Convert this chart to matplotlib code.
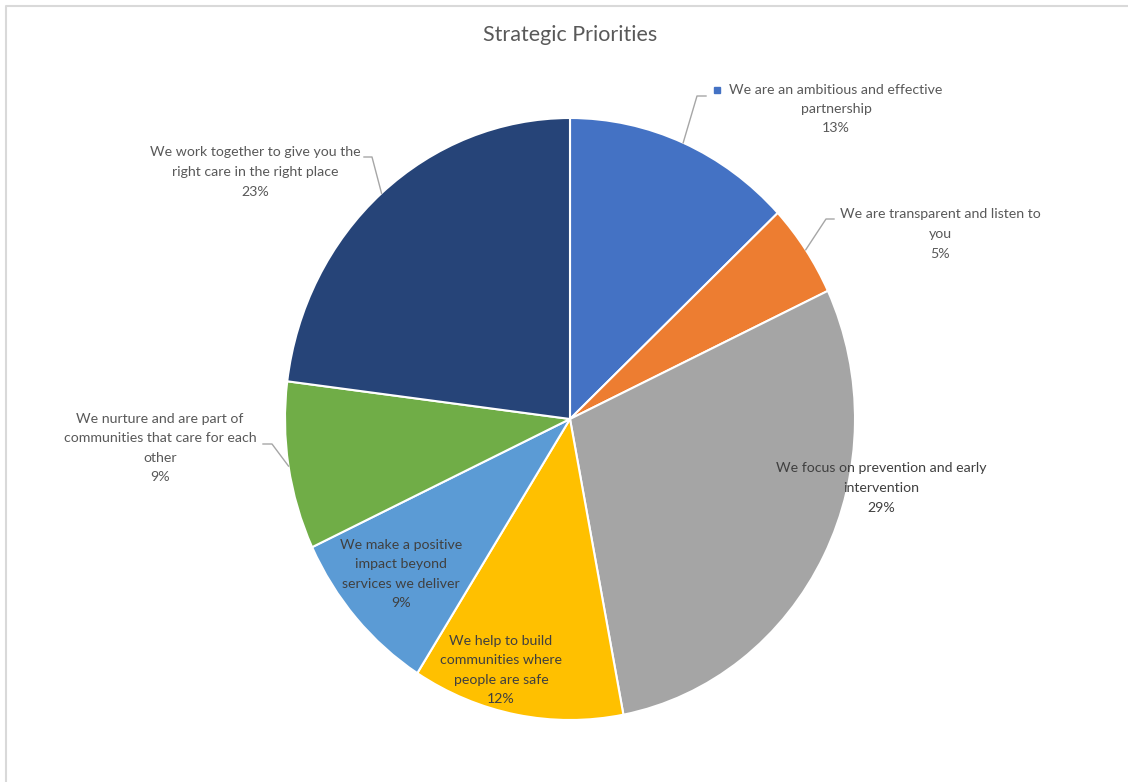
import matplotlib
matplotlib.use('Agg')
from matplotlib import pyplot as plt
from matplotlib.transforms import Affine2D
import numpy as np

# dane wykresu
labels = [
    'We are an ambitious and effective\npartnership',
    'We are transparent and listen to\nyou',
    'We focus on prevention and early\nintervention',
    'We help to build\ncommunities where\npeople are safe',
    'We make a positive\nimpact beyond\nservices we deliver',
    'We nurture and are part of\ncommunities that care for each\nother',
    'We work together to give you the\nright care in the right place',
]
shares = [13, 5, 29, 12, 9, 9, 23]
colors = ['#4472C4', '#ED7D31', '#A5A5A5', '#FFC000', '#5B9BD5', '#70AD47', '#264478']

# pozycje etykiet (piksele), kolor tekstu, łamanie linii odnośnika (albo None)
label_pos = [(836, 109), (940, 234), (881, 488), (501, 670), (401, 574), (160, 448), (255, 172)]
label_col = ['#595959', '#595959', '#404040', '#404040', '#404040', '#595959', '#595959']
elbows = [((697, 96), (706, 96)), ((826, 219), (834, 219)), None, None, None,
          ((272, 444), (263, 444)), ((372, 157), (364, 157))]

W, H = 1128, 782
cx, cy, rx, ry = 570, 419, 285, 301

plt.rcParams['font.family'] = ['Lato', 'DejaVu Sans']
fig = plt.figure(figsize=(W / 100, H / 100), dpi=100)
ax = fig.add_axes([0, 0, 1, 1])

# koło w jednostkach, przeskalowane do pikseli (lekko eliptyczne jak w oryginale)
pie_tr = Affine2D().scale(rx, -ry).translate(cx, cy) + ax.transData
wedges, _ = ax.pie(shares, colors=colors, startangle=90, counterclock=False,
                   wedgeprops={'edgecolor': 'white', 'linewidth': 1.5, 'transform': pie_tr})

ax.set_xlim(0, W)
ax.set_ylim(H, 0)
ax.set_aspect('auto')
ax.axis('off')

total = sum(shares)
for i, (lab, v) in enumerate(zip(labels, shares)):
    x, y = label_pos[i]
    ax.text(x, y, f'{lab}\n{round(100 * v / total)}%', ha='center', va='center',
            fontsize=10.2, color=label_col[i], linespacing=1.75)
    if elbows[i] is not None:
        w = wedges[i]
        mid = np.deg2rad((w.theta1 + w.theta2) / 2)
        sx, sy = cx + rx * np.cos(mid), cy - ry * np.sin(mid)
        (ex, ey), (hx, hy) = elbows[i]
        ax.plot([sx, ex, hx], [sy, ey, hy], color='#A6A6A6', lw=1)

# pozostałość po legendzie Excela
ax.plot(717, 90, marker='s', markersize=4.5, color=colors[0], linestyle='none')

ax.text(570, 35, 'Strategic Priorities', ha='center', va='center', fontsize=15.5, color='#595959')

# ramka obszaru wykresu
ax.plot([6, 6, W], [H, 6, 6], color='#D9D9D9', lw=1.5, solid_capstyle='butt')

fig.savefig('out.png', dpi=100)
